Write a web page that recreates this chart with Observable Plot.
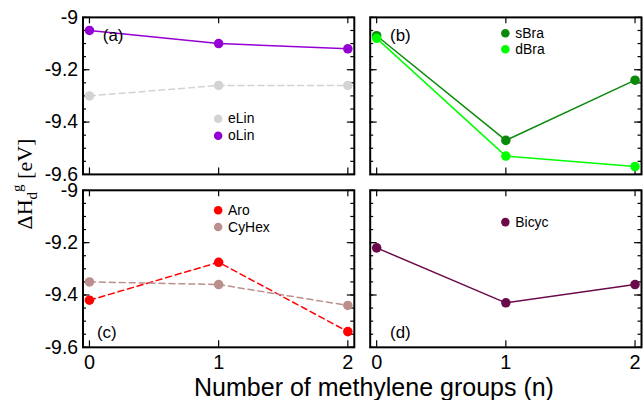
<!DOCTYPE html>
<html><head><meta charset="utf-8">
<script src="https://cdn.jsdelivr.net/npm/d3@7"></script>
<script src="https://cdn.jsdelivr.net/npm/@observablehq/plot@0.6"></script>
<style>
html,body{margin:0;padding:0;background:#fff;overflow:hidden;}
#wrap{position:relative;width:644px;height:400px;overflow:hidden;background:#fff;}
#wrap svg{position:absolute;left:0;top:0;}
.ylab{position:absolute;left:26px;top:184px;transform:translate(-50%,-50%) rotate(-90deg);font-family:"Liberation Serif","Times New Roman",serif;font-size:22px;white-space:nowrap;line-height:22px;color:#000;}
.ylab .sb{font-size:15px;position:relative;top:5px;}
.ylab .sp{font-size:15px;position:relative;top:-10px;}
.xlab{position:absolute;left:374px;top:375px;transform:translateX(-50%);font-family:"Liberation Sans",Arial,sans-serif;font-size:25px;white-space:nowrap;line-height:25px;color:#000;}
</style></head><body><div id="wrap"></div>
<script>
// ---- data ----
const n = [0, 1, 2];
const series = ["eLin", "oLin", "sBra", "dBra", "Aro", "CyHex", "Bicyc"];
const seriesColors = ["#d3d3d3", "#9400d3", "#0a8a0a", "#00ff00", "#ff0000", "#bc8f8f", "#6b0a4a"];
const eLin  = [-9.30, -9.26, -9.26];
const oLin  = [-9.05, -9.10, -9.12];
const sBra  = [-9.07, -9.47, -9.24];
const dBra  = [-9.08, -9.53, -9.57];
const Aro   = [-9.42, -9.275, -9.54];
const CyHex = [-9.35, -9.36, -9.44];
const Bicyc = [-9.22, -9.43, -9.36];
const panelLabels = ["(a)", "(b)", "(c)", "(d)"];
const seriesPanel = ["(a)", "(a)", "(b)", "(b)", "(c)", "(c)", "(d)"];
const dashedSeries = ["eLin", "Aro", "CyHex"];
const yTicks = [-9, -9.2, -9.4, -9.6];
const yMinorTicks = [-9, -9.05, -9.1, -9.15, -9.2, -9.25, -9.3, -9.35, -9.4, -9.45, -9.5, -9.55, -9.6];
const xTitle = "Number of methylene groups (n)";

// ---- layout ----
const values = {eLin, oLin, sBra, dBra, Aro, CyHex, Bicyc};
const panelFx = {"(a)": "L", "(b)": "R", "(c)": "L", "(d)": "R"};
const panelFy = {"(a)": "T", "(b)": "T", "(c)": "B", "(d)": "B"};
const labelPos = {
  "(a)": {frameAnchor: "top-left", dx: 20, dy: 18},
  "(b)": {frameAnchor: "top-left", dx: 20, dy: 18},
  "(c)": {frameAnchor: "bottom-left", dx: 14, dy: -15},
  "(d)": {frameAnchor: "bottom-left", dx: 20, dy: -15}
};
const legendDy = {eLin: 102, oLin: 119, sBra: 16, dBra: 32, Aro: 20, CyHex: 37, Bicyc: 32};
const facetW = 273, facetH = 158.5;

const rows = [];
series.forEach((s, k) => {
  const p = seriesPanel[k];
  n.forEach((x, i) => rows.push({series: s, n: x, v: values[s][i], fx: panelFx[p], fy: panelFy[p]}));
});
const fxOf = s => panelFx[seriesPanel[series.indexOf(s)]];
const fyOf = s => panelFy[seriesPanel[series.indexOf(s)]];

const legendMarks = series.flatMap(s => [
  Plot.dot([s], {fx: fxOf, fy: fyOf, fill: d => d, r: 4.3, frameAnchor: "top-left", dx: 136, dy: legendDy[s]}),
  Plot.text([s], {fx: fxOf, fy: fyOf, text: d => d, frameAnchor: "top-left", dx: 146, dy: legendDy[s],
    textAnchor: "start", lineAnchor: "middle", fontSize: 14, fill: "black"})
]);
const labelMarks = panelLabels.map(p =>
  Plot.text([p], {fx: () => panelFx[p], fy: () => panelFy[p], text: d => d, ...labelPos[p],
    textAnchor: "start", lineAnchor: "middle", fontSize: 17, fill: "black"})
);

const chart = Plot.plot({
  width: 648, height: 400,
  marginLeft: 83, marginRight: 3, marginTop: 17, marginBottom: 50,
  style: {fontFamily: '"Liberation Sans", Arial, sans-serif', fontSize: "20px", background: "white", color: "black"},
  fx: {domain: ["L", "R"], paddingInner: 0.0554, paddingOuter: 0, axis: null, label: null},
  fy: {domain: ["T", "B"], paddingInner: 0.0917, paddingOuter: 0, axis: null, label: null},
  x: {domain: [-0.05, 2.05], label: null},
  y: {domain: [-9.6, -9], label: null},
  color: {domain: series, range: seriesColors},
  marks: [
    Plot.axisX(n, {anchor: "bottom", tickSize: 0, tickPadding: 8, tickFormat: d => String(d), fontSize: 20, label: null}),
    Plot.axisY(yTicks, {anchor: "left", tickSize: 0, tickPadding: 5, tickFormat: d => String(d), fontSize: 19.5, label: null}),
    // inward ticks
    Plot.tickY(yMinorTicks, {y: d => d, insetRight: facetW - 3.5, stroke: "black", strokeWidth: 1.2}),
    Plot.tickY(yMinorTicks, {y: d => d, insetLeft: facetW - 3.5, stroke: "black", strokeWidth: 1.2}),
    Plot.tickY(yTicks, {y: d => d, insetRight: facetW - 7, stroke: "black", strokeWidth: 1.2}),
    Plot.tickY(yTicks, {y: d => d, insetLeft: facetW - 7, stroke: "black", strokeWidth: 1.2}),
    Plot.tickX(n, {x: d => d, insetTop: facetH - 7, stroke: "black", strokeWidth: 1.2}),
    Plot.tickX(n, {x: d => d, insetBottom: facetH - 7, stroke: "black", strokeWidth: 1.2}),
    Plot.frame({stroke: "black", strokeWidth: 2}),
    Plot.line(rows.filter(d => !dashedSeries.includes(d.series)), {x: "n", y: "v", z: "series", stroke: "series", strokeWidth: 1.5, fx: "fx", fy: "fy"}),
    Plot.line(rows.filter(d => dashedSeries.includes(d.series)), {x: "n", y: "v", z: "series", stroke: "series", strokeWidth: 1.5, strokeDasharray: "6,4", fx: "fx", fy: "fy"}),
    Plot.dot(rows, {x: "n", y: "v", fill: "series", r: 4.8, fx: "fx", fy: "fy"}),
    ...legendMarks,
    ...labelMarks
  ]
});
const wrap = document.getElementById("wrap");
wrap.appendChild(chart);
const yl = document.createElement("div");
yl.className = "ylab";
yl.innerHTML = 'ΔH<span class="sb">d</span><span class="sp">g</span> [eV]';
wrap.appendChild(yl);
const xl = document.createElement("div");
xl.className = "xlab";
xl.textContent = xTitle;
wrap.appendChild(xl);
</script></body></html>
